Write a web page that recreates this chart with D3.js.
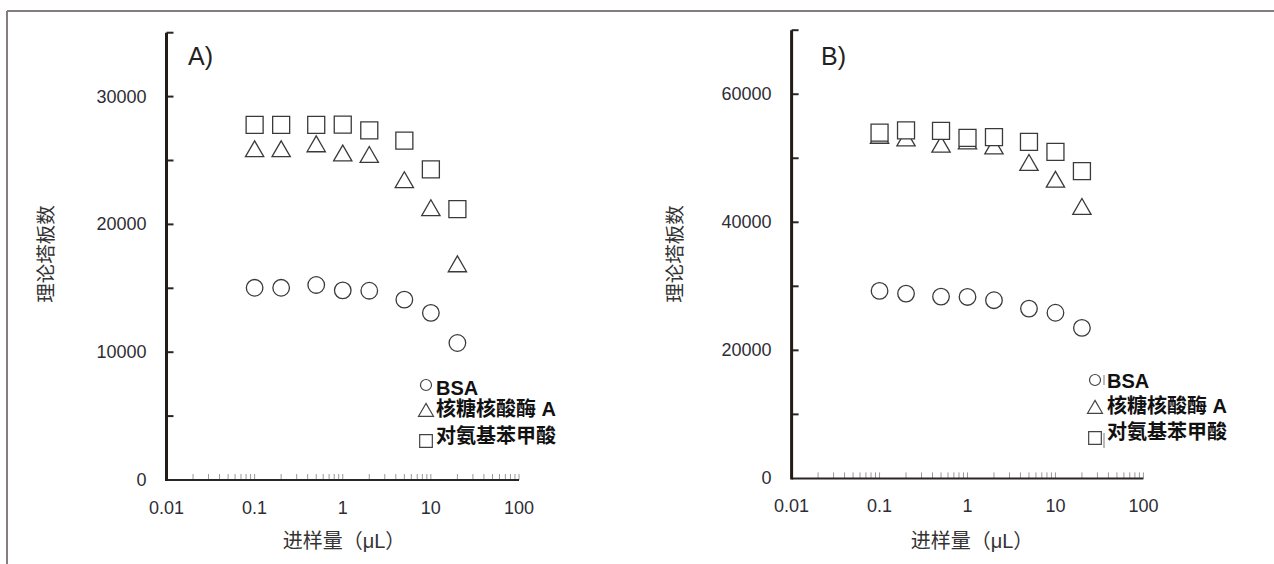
<!DOCTYPE html>
<html>
<head>
<meta charset="utf-8">
<script src="https://cdn.jsdelivr.net/npm/d3@7"></script>
<style>
html,body{margin:0;padding:0;background:#fff;}
svg{display:block;}
</style>
</head>
<body>
<svg id="chart" width="1274" height="564"></svg>
<script>
// ---- Data ----
const injectionVolumes = [0.1, 0.2, 0.5, 1, 2, 5, 10, 20];
const seriesNames = ["BSA", "核糖核酸酶 A", "对氨基苯甲酸"];
const panelLabels = ["A)", "B)"];
const xTickValues = [0.01, 0.1, 1, 10, 100];
const xTickLabels = ["0.01", "0.1", "1", "10", "100"];
const yTicksA = [0, 10000, 20000, 30000];
const yTicksB = [0, 20000, 40000, 60000];
const yMaxA = 35000;
const yMaxB = 70000;
const xTitle = "进样量（μL）";
const yTitle = "理论塔板数";

const bsaA   = [15040, 15040, 15260, 14840, 14810, 14110, 13080, 10720];
const rnaseA = [25710, 25710, 26100, 25380, 25270, 23290, 21100, 16710];
const pabaA  = [27780, 27780, 27780, 27800, 27360, 26550, 24310, 21190];

const bsaB   = [29280, 28860, 28390, 28340, 27830, 26520, 25870, 23500];
const rnaseB = [53170, 52750, 51770, 52280, 51500, 48940, 46310, 42060];
const pabaB  = [54000, 54360, 54280, 53190, 53310, 52560, 51000, 47980];

// ---- Layout ----
const svg = d3.select("#chart");
const FONT = "'Liberation Sans', Arial, 'Noto Sans CJK SC', sans-serif";

// outer frame (top + left only)
svg.append("line").attr("x1", 7).attr("x2", 1274).attr("y1", 11).attr("y2", 11)
  .attr("stroke", "#847e7c").attr("stroke-width", 2);
svg.append("line").attr("x1", 7).attr("x2", 7).attr("y1", 11).attr("y2", 564)
  .attr("stroke", "#847e7c").attr("stroke-width", 2);

const panels = [
  {
    label: panelLabels[0], yTicks: yTicksA, yMax: yMaxA,
    series: [bsaA, rnaseA, pabaA],
    x0: 166.5, x1: 519, y0: 480, y1: 32.7,
    labelX: 188, labelY: 65,
    yTitleX: 46, xTitleX: 344,
    legX: 426, textX: 436, legY: [385, 412, 441], textY: [395, 416, 443], bars: false
  },
  {
    label: panelLabels[1], yTicks: yTicksB, yMax: yMaxB,
    series: [bsaB, rnaseB, pabaB],
    x0: 791.6, x1: 1143.4, y0: 478.4, y1: 30.2,
    labelX: 821, labelY: 65,
    yTitleX: 675, xTitleX: 972,
    legX: 1095, textX: 1107, legY: [380, 409, 438], textY: [388, 413, 439], bars: true
  }
];

const symbolTypes = [d3.symbolCircle, d3.symbolTriangle, d3.symbolSquare];
const symbolSizes = [216, 145, 289];
const legendSizes = [95, 97, 160];

panels.forEach(p => {
  const g = svg.append("g");
  const x = d3.scaleLog().domain([0.01, 100]).range([p.x0, p.x1]);
  const y = d3.scaleLinear().domain([0, p.yMax]).range([p.y0, p.y1]);

  // x minor ticks (inside, gray)
  const minor = [];
  for (let e = -2; e < 2; e++) {
    for (let m = 1; m <= 9; m++) minor.push(m * Math.pow(10, e));
  }
  minor.push(100);
  g.selectAll(".xminor").data(minor).enter().append("line")
    .attr("x1", d => x(d)).attr("x2", d => x(d))
    .attr("y1", p.y0).attr("y2", d => p.y0 - 6)
    .attr("stroke", "#999").attr("stroke-width", 1);

  // x axis line
  g.append("line").attr("x1", p.x0).attr("x2", p.x1)
    .attr("y1", p.y0).attr("y2", p.y0)
    .attr("stroke", "#2b2523").attr("stroke-width", 2);

  // x tick labels
  g.selectAll(".xlab").data(xTickValues).enter().append("text")
    .attr("x", d => x(d)).attr("y", p.y0 + 34)
    .attr("text-anchor", "middle")
    .attr("font-family", FONT).attr("font-size", 18)
    .attr("fill", "#2e2c36")
    .text((d, i) => xTickLabels[i]);

  // y ticks every 5000 / 10000 (inside)
  const yStep = p.yMax / 7;
  const yMinor = d3.range(1, 8).map(i => i * yStep);
  g.selectAll(".ytick").data(yMinor).enter().append("line")
    .attr("x1", p.x0).attr("x2", p.x0 + 7)
    .attr("y1", d => y(d)).attr("y2", d => y(d))
    .attr("stroke", "#2b2523").attr("stroke-width", 2);

  // y axis line
  g.append("line").attr("x1", p.x0).attr("x2", p.x0)
    .attr("y1", y(p.yMax)).attr("y2", p.y0 + 1)
    .attr("stroke", "#231b18").attr("stroke-width", 3);

  // y tick labels
  g.selectAll(".ylab").data(p.yTicks).enter().append("text")
    .attr("x", p.x0 - 20).attr("y", d => y(d) + 6)
    .attr("text-anchor", "end")
    .attr("font-family", FONT).attr("font-size", 18)
    .attr("fill", "#2e2c36")
    .text(d => d);

  // panel label
  g.append("text").attr("x", p.labelX).attr("y", p.labelY)
    .attr("font-family", FONT).attr("font-size", 25)
    .attr("fill", "#222").text(p.label);

  // axis titles
  g.append("text").attr("x", p.xTitleX).attr("y", 548)
    .attr("text-anchor", "middle")
    .attr("font-family", FONT).attr("font-size", 20)
    .attr("fill", "#333").text(xTitle);
  g.append("text")
    .attr("transform", `translate(${p.yTitleX + 7},254) rotate(-90)`)
    .attr("text-anchor", "middle")
    .attr("font-family", FONT).attr("font-size", 19.5)
    .attr("fill", "#333").text(yTitle);

  // markers: circles, triangles, then squares on top
  p.series.forEach((vals, si) => {
    const sym = d3.symbol().type(symbolTypes[si]).size(symbolSizes[si]);
    g.selectAll(".m" + si).data(vals).enter().append("path")
      .attr("d", sym)
      .attr("transform", (d, i) => `translate(${x(injectionVolumes[i])},${y(d)})`)
      .attr("fill", "#fff").attr("stroke", "#3a3a3a").attr("stroke-width", 1.3);
  });

  // legend
  seriesNames.forEach((name, si) => {
    const sym = d3.symbol().type(symbolTypes[si]).size(legendSizes[si]);
    g.append("path").attr("d", sym)
      .attr("transform", `translate(${p.legX},${p.legY[si]})`)
      .attr("fill", "#fff").attr("stroke", "#444").attr("stroke-width", 1.2);
    g.append("text").attr("x", p.textX).attr("y", p.textY[si])
      .attr("font-family", FONT).attr("font-size", 20).attr("font-weight", "bold")
      .attr("fill", "#111").text(name);
  });
  if (p.bars) {
    g.append("line").attr("x1", 1104).attr("x2", 1104).attr("y1", 375).attr("y2", 385)
      .attr("stroke", "#777").attr("stroke-width", 1);
    g.append("line").attr("x1", 1104).attr("x2", 1104).attr("y1", 433).attr("y2", 448)
      .attr("stroke", "#777").attr("stroke-width", 1);
  }
});
</script>
</body>
</html>
